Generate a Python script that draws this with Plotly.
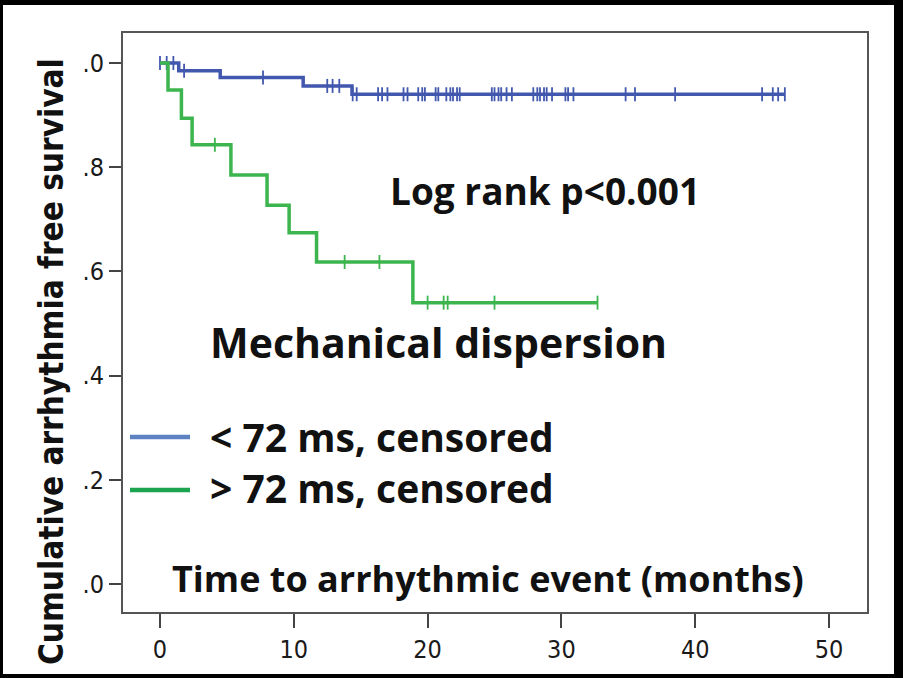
import numpy as np
import plotly.graph_objects as go

# ---------------- data ----------------
short_event_t = [0.0, 1.4, 4.5, 10.7, 14.35, 46.7]
short_surv = [1.0, 0.985, 0.972, 0.956, 0.940, 0.940]
short_censor_t = [0.0, 0.5, 1.0, 1.8, 7.7, 12.5, 12.9, 13.4, 14.4, 14.7, 16.3, 16.6,
                  17.0, 18.2, 18.5, 19.3, 19.6, 19.8, 20.6, 20.8, 21.4, 21.7, 21.9,
                  22.2, 22.4, 24.8, 25.0, 25.3, 25.5, 25.9, 26.3, 27.9, 28.2, 28.4,
                  28.7, 28.9, 29.3, 30.3, 30.5, 30.9, 34.8, 35.5, 38.5, 45.0, 45.8,
                  46.2, 46.7]

long_event_t = [0.0, 0.6, 1.6, 2.4, 5.3, 8.0, 9.65, 11.7, 18.9, 32.7]
long_surv = [1.0, 0.948, 0.894, 0.843, 0.785, 0.727, 0.674, 0.618, 0.540, 0.540]
long_censor_t = [4.1, 13.8, 16.4, 20.0, 21.2, 21.5, 25.0, 32.7]

y_tickvals = [0.0, 0.2, 0.4, 0.6, 0.8, 1.0]
y_ticktext = [".0", ".2", ".4", ".6", ".8", ".0"]
x_tickvals = [0, 10, 20, 30, 40, 50]

series_names = ["< 72 ms, censored", "> 72 ms, censored"]

BLUE = "#4257AE"
GREEN = "#3DB54E"
BLUE_LEG = "#5D82C2"
GREEN_LEG = "#1BA350"


def step_at(ev_t, surv, t):
    idx = np.searchsorted(np.array(ev_t), np.array(t), side="right") - 1
    return np.array(surv)[idx]


# ---------------- geometry helpers (layout only) ----------------
W, H = 903, 678
L, R, T, B = 123, 867, 33, 612


def px(x):
    return (x - L) / (R - L)


def py(y):
    return (B - y) / (B - T)


fig = go.Figure()

for ev_t, surv, cens, col, name in [
    (short_event_t, short_surv, short_censor_t, BLUE, series_names[0]),
    (long_event_t, long_surv, long_censor_t, GREEN, series_names[1]),
]:
    fig.add_trace(go.Scatter(
        x=ev_t, y=surv, mode="lines", line=dict(color=col, width=3.5, shape="hv"),
        name=name, showlegend=False, hoverinfo="skip"))
    fig.add_trace(go.Scatter(
        x=cens, y=step_at(ev_t, surv, cens), mode="markers",
        marker=dict(symbol="line-ns", size=10, line=dict(color=col, width=1.8)),
        showlegend=False, hoverinfo="skip"))

narrow = "Liberation Sans Narrow, DejaVu Sans Condensed, Arial Narrow, sans-serif"
tick_font = dict(family=narrow, size=25, color="#1a1a1a")

fig.update_xaxes(
    range=[(L - 160) / 13.38, (R - 160) / 13.38],
    tickvals=x_tickvals, ticks="outside", ticklen=14, tickwidth=2, tickcolor="#444",
    showline=True, linecolor="#555", linewidth=2, mirror=True,
    showgrid=False, zeroline=False, tickfont=tick_font)
fig.update_yaxes(
    range=[-(B - 584) / 521, 1 + (63 - T) / 521],
    tickvals=y_tickvals, ticktext=y_ticktext, ticks="outside", ticklen=12, tickwidth=2,
    tickcolor="#444", showline=True, linecolor="#555", linewidth=2, mirror=True,
    showgrid=False, zeroline=False, tickfont=tick_font)

text_font = "Open Sans, Lato, sans-serif"
anns = [
    dict(text="Log rank p<0.001", x=px(545), y=py(190), xanchor="center", size=37),
    dict(text="Mechanical dispersion", x=px(438), y=py(342), xanchor="center", size=41),
    dict(text=series_names[0] + "<br>" + series_names[1], x=px(208), y=py(462),
         xanchor="left", size=39),
    dict(text="Time to arrhythmic event (months)", x=px(488), y=py(578), xanchor="center", size=36),
]
for a in anns:
    fig.add_annotation(text=a["text"], x=a["x"], y=a["y"], xref="paper", yref="paper",
                       xanchor=a["xanchor"], yanchor="middle", align="left", showarrow=False,
                       font=dict(family=text_font, size=a["size"], color="#111111", weight="bold"))

fig.add_annotation(text="Cumulative arrhythmia free survival", x=px(52), y=py(362),
                   xref="paper", yref="paper", xanchor="center", yanchor="middle",
                   textangle=-90, showarrow=False,
                   font=dict(family=narrow, size=33, color="#111111", weight="bold"))

# legend samples
fig.add_shape(type="line", xref="paper", yref="paper", x0=px(130), x1=px(190),
              y0=py(437), y1=py(437), line=dict(color=BLUE_LEG, width=4.5))
fig.add_shape(type="line", xref="paper", yref="paper", x0=px(130), x1=px(190),
              y0=py(490), y1=py(490), line=dict(color=GREEN_LEG, width=4.5))

# white page inside black frame
fig.add_shape(type="rect", xref="paper", yref="paper", layer="below",
              x0=px(3), x1=px(894), y0=py(674), y1=py(5),
              fillcolor="white", line=dict(width=0))

fig.update_layout(
    width=W, height=H,
    margin=dict(l=L, r=W - R, t=T, b=H - B),
    paper_bgcolor="black", plot_bgcolor="white",
    showlegend=False,
)

fig.write_html("out.html", config={"displayModeBar": False},
               post_script="document.body.style.margin='0';document.body.style.overflow='hidden';")
